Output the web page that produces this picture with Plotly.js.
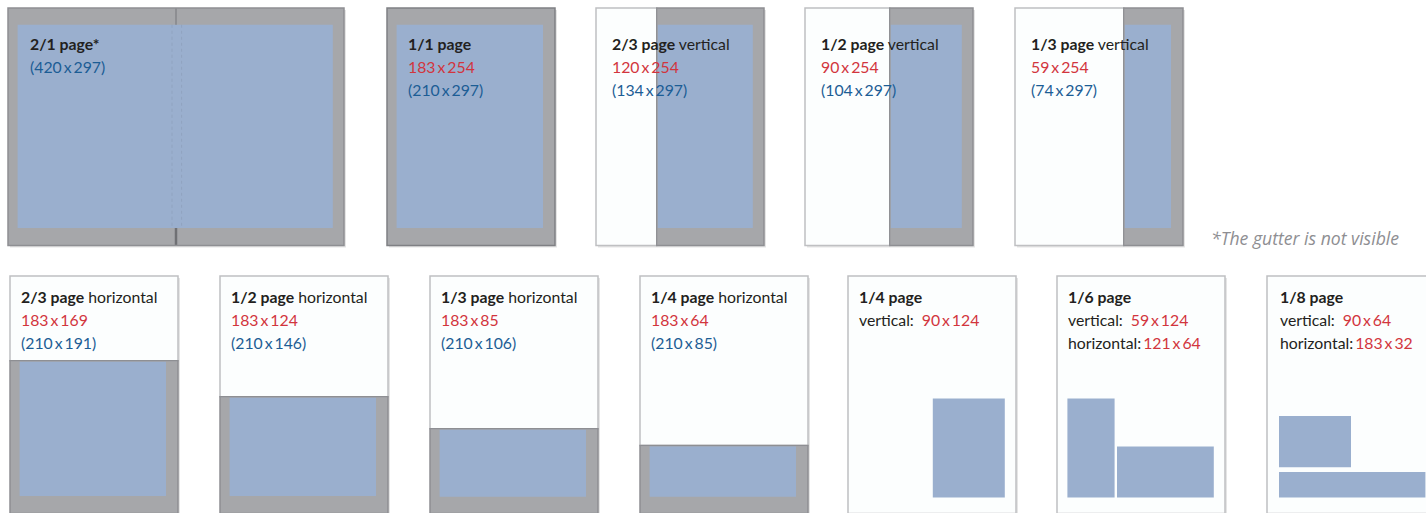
<!DOCTYPE html>
<html><head><meta charset="utf-8">
<script src="https://cdn.plot.ly/plotly-3.0.1.min.js"></script>
<style>html,body{margin:0;padding:0;background:#fff;}#chart{width:1426px;height:513px;}</style>
</head><body><div id="chart"></div>
<script>
// ---------- data (mm) ----------
const pageSize = [210, 297];
const spreadName = '2/1 page*';
const spreadSize = [420, 297];
const fullName = '1/1 page';
const fullType = [183, 254];
const fullBleed = [210, 297];

const vertNames = ['2/3 page', '1/2 page', '1/3 page'];
const vertType = [[120, 254], [90, 254], [59, 254]];
const vertBleed = [[134, 297], [104, 297], [74, 297]];

const horNames = ['2/3 page', '1/2 page', '1/3 page', '1/4 page'];
const horType = [[183, 169], [183, 124], [183, 85], [183, 64]];
const horBleed = [[210, 191], [210, 146], [210, 106], [210, 85]];

const smallNames = ['1/4 page', '1/6 page', '1/8 page'];
const smallVert = [[90, 124], [59, 124], [90, 64]];
const smallHor = [null, [121, 64], [183, 32]];

const footnote = '*The gutter is not visible';

// ---------- layout / style ----------
const W = 1426, H = 513, PX = 0.8; // px per mm
const C = {blue: '#9aafce', grey: '#a6a7aa', page: '#fcfefe', border: '#8e8f93', borderLight: '#bfc0c2',
  shadow: 'rgba(0,0,0,0.10)', dark: '#231f20', red: '#d2353d', navy: '#1c5d95', note: '#8e8e92'};
const M = {top: 21, left: 12, right: 14, smallBottom: 277, smallLeft: 13, gap: 5};
const FONT = 'Lato, "Open Sans", sans-serif';
const FS = 15.8;
const mm = p => p / PX;
const topY = mm(8), botY = mm(276);
const topX = [mm(8), mm(387), mm(596), mm(805), mm(1015)];
const botX = [mm(10), mm(220), mm(430), mm(640), mm(848), mm(1057), mm(1267)];
const topLines = [mm(43.5), mm(66.5), mm(89.5)];
const botLines = [mm(296.5), mm(319.5), mm(342.5)];

const shapes = [], annotations = [];
function rect(x0, y0, x1, y1, fill, line, lw, extra) {
  shapes.push(Object.assign({type: 'rect', xref: 'x', yref: 'y', x0, y0, x1, y1, fillcolor: fill,
    line: {color: line || 'rgba(0,0,0,0)', width: line ? (lw || 1.5) : 0}, layer: 'above'}, extra || {}));
}
function vline(x, y0, y1, color, width, dash) {
  shapes.push({type: 'line', xref: 'x', yref: 'y', x0: x, x1: x, y0, y1, line: {color, width, dash: dash || 'solid'}, layer: 'above'});
}
function label(x, y, text, color, size, italic, family) {
  annotations.push({xref: 'x', yref: 'y', x, y, text, showarrow: false, xanchor: 'left', yanchor: 'middle',
    font: {family: family || FONT, size: size || FS, color: color || C.dark, style: italic ? 'italic' : 'normal'}});
}
const dim = (s) => s[0] + '\u2009x\u2009' + s[1];
const red = (s) => "<span style='color:" + C.red + "'>" + s + '</span>';
function pageFrame(x, y, w, h) {
  rect(x + 2.5, y + 2.5, x + w + 2.5, y + h + 2.5, C.shadow);
}
function pageBorder(x, y, w, h, col) {
  rect(x, y, x + w, y + h, 'rgba(0,0,0,0)', col || C.border, 1.5);
}

// spread (2/1)
{
  const x = topX[0], y = topY, [w, h] = spreadSize;
  pageFrame(x, y, w, h);
  rect(x, y, x + w, y + h, C.grey);
  rect(x + M.left, y + M.top, x + w - M.right, y + M.top + fullType[1], C.blue);
  vline(x + w / 2 - 5, y + M.top, y + M.top + fullType[1], 'rgba(110,120,140,0.2)', 1, 'dot');
  vline(x + w / 2 + 7, y + M.top, y + M.top + fullType[1], 'rgba(110,120,140,0.2)', 1, 'dot');
  vline(x + w / 2, y, y + M.top, '#85868a', 1.5);
  vline(x + w / 2, y + M.top + fullType[1], y + h, '#6f7074', 2.5);
  pageBorder(x, y, w, h);
  label(x + mm(20), topLines[0], '<b>' + spreadName + '</b>', C.dark);
  label(x + mm(20), topLines[1], '(' + dim(spreadSize) + ')', C.navy);
}
// full page (1/1)
{
  const x = topX[1], y = topY, [w, h] = fullBleed;
  pageFrame(x, y, w, h);
  rect(x, y, x + w, y + h, C.grey);
  rect(x + M.left, y + M.top, x + M.left + fullType[0], y + M.top + fullType[1], C.blue);
  pageBorder(x, y, w, h, '#7f8084');
  label(x + mm(19), topLines[0], '<b>' + fullName + '</b>', C.dark);
  label(x + mm(19), topLines[1], dim(fullType), C.red);
  label(x + mm(19), topLines[2], '(' + dim(fullBleed) + ')', C.navy);
}
// vertical ads
vertNames.forEach((n, i) => {
  const x = topX[i + 2], y = topY, [w, h] = pageSize;
  const bx = x + w - vertBleed[i][0];
  pageFrame(x, y, w, h);
  rect(x, y, x + w, y + h, C.page);
  rect(bx, y + h - vertBleed[i][1], x + w, y + h, C.grey);
  rect(bx, y + M.top, bx + vertType[i][0], y + M.top + vertType[i][1], C.blue);
  rect(x, y, bx, y + h, 'rgba(0,0,0,0)', C.borderLight, 1.5);
  rect(bx, y, x + w, y + h, 'rgba(0,0,0,0)', C.border, 1.5);
  label(x + mm(14), topLines[0], '<b>' + n + '</b> vertical', C.dark);
  label(x + mm(14), topLines[1], dim(vertType[i]), C.red);
  label(x + mm(14), topLines[2], '(' + dim(vertBleed[i]) + ')', C.navy);
});
// horizontal ads
horNames.forEach((n, i) => {
  const x = botX[i], y = botY, [w, h] = pageSize;
  const by = y + h - horBleed[i][1];
  pageFrame(x, y, w, h);
  rect(x, y, x + w, y + h, C.page);
  rect(x, by, x + horBleed[i][0], y + h, C.grey);
  rect(x + M.left, by, x + M.left + horType[i][0], by + horType[i][1], C.blue);
  rect(x, y, x + w, by, 'rgba(0,0,0,0)', C.borderLight, 1.5);
  rect(x, by, x + w, y + h, 'rgba(0,0,0,0)', C.border, 1.5);
  label(x + mm(9), botLines[0], '<b>' + n + '</b> horizontal', C.dark);
  label(x + mm(9), botLines[1], dim(horType[i]), C.red);
  label(x + mm(9), botLines[2], '(' + dim(horBleed[i]) + ')', C.navy);
});
// small ads
smallNames.forEach((n, i) => {
  const x = botX[i + 4], y = botY, [w, h] = pageSize;
  pageFrame(x, y, w, h);
  rect(x, y, x + w, y + h, C.page);
  const bottom = y + M.smallBottom;
  const right = x + w - M.right;
  const v = smallVert[i], hz = smallHor[i];
  if (!hz) {
    rect(right - v[0], bottom - v[1], right, bottom, C.blue);
  } else if (hz[0] + v[0] < w - 20) {
    rect(x + M.smallLeft, bottom - v[1], x + M.smallLeft + v[0], bottom, C.blue);
    rect(right - hz[0], bottom - hz[1], right, bottom, C.blue);
  } else {
    rect(x + M.smallLeft + 2, bottom - hz[1], x + M.smallLeft + 2 + hz[0], bottom, C.blue);
    const vb = bottom - hz[1] - M.gap - 1;
    rect(x + M.smallLeft + 2, vb - v[1], x + M.smallLeft + 2 + v[0], vb, C.blue);
  }
  pageBorder(x, y, w, h, C.borderLight);
  const lx = x + (i === 2 ? mm(11) : mm(8.5));
  label(lx, botLines[0], '<b>' + n + '</b>', C.dark);
  label(lx, botLines[1], 'vertical:\u2002' + red(dim(v)), C.dark);
  if (hz) label(lx, botLines[2], 'horizontal:\u2009' + red(dim(hz)), C.dark);
});
label(mm(1209), mm(238), footnote, C.note, 17.6, true, '"Open Sans", sans-serif');

const ax = {visible: false, showgrid: false, zeroline: false, fixedrange: true};
Plotly.newPlot('chart', [], {
  width: W, height: H, margin: {l: 0, r: 0, t: 0, b: 0},
  paper_bgcolor: '#ffffff', plot_bgcolor: '#ffffff', showlegend: false,
  xaxis: Object.assign({range: [0, W / PX]}, ax),
  yaxis: Object.assign({range: [H / PX, 0]}, ax),
  shapes, annotations
}, {displayModeBar: false, staticPlot: true});
</script></body></html>
